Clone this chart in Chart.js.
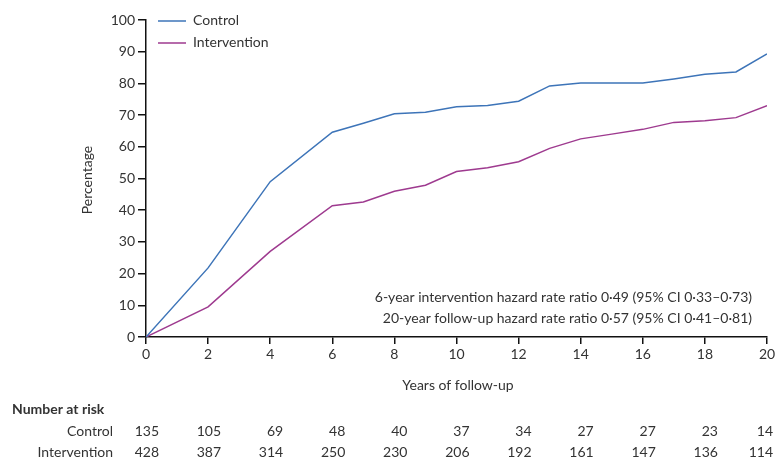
<!DOCTYPE html>
<html>
<head>
<meta charset="utf-8">
<script src="https://cdn.jsdelivr.net/npm/chart.js@4"></script>
<style>
  html, body { margin: 0; padding: 0; background: #fff; }
  #wrap { width: 778px; height: 459px; position: relative; }
</style>
</head>
<body>
<div id="wrap"><canvas id="chart" width="778" height="459"></canvas></div>
<script>
/* Cumulative percentage by years of follow-up */
const years = [0, 2, 4, 6, 7, 8, 9, 10, 11, 12, 13, 14, 15, 16, 17, 18, 19, 20];
const controlPct = [0, 21.8, 49, 64.6, 67.4, 70.4, 70.9, 72.6, 73.0, 74.4, 79.2, 80.1, 80.1, 80.1, 81.4, 82.9, 83.6, 89.3];
const interventionPct = [0, 9.5, 27, 41.4, 42.6, 46, 47.9, 52.2, 53.4, 55.3, 59.5, 62.5, 64, 65.5, 67.7, 68.2, 69.2, 73.0];

const riskYears = [0, 2, 4, 6, 8, 10, 12, 14, 16, 18, 20];
const riskControl = [135, 105, 69, 48, 40, 37, 34, 27, 27, 23, 14];
const riskIntervention = [428, 387, 314, 250, 230, 206, 192, 161, 147, 136, 114];

const notes = [
  '6-year intervention hazard rate ratio 0·49 (95% CI 0·33–0·73)',
  '20-year follow-up hazard rate ratio 0·57 (95% CI 0·41–0·81)'
];

const FONT = 'Lato, "Open Sans", sans-serif';
const TEXT = '#333';
const BLUE = '#3d74b8';
const PURPLE = '#9e3a8f';

function pts(xs, ys) { return xs.map((x, i) => ({ x, y: ys[i] })); }

const extras = {
  id: 'extras',
  afterDraw(chart) {
    const ctx = chart.ctx, xs = chart.scales.x, area = chart.chartArea;
    ctx.save();
    ctx.font = '14px ' + FONT;
    ctx.fillStyle = TEXT;

    // legend
    [['Control', BLUE, 20], ['Intervention', PURPLE, 42]].forEach(([t, c, y]) => {
      ctx.strokeStyle = c; ctx.lineWidth = 1.5;
      ctx.beginPath(); ctx.moveTo(158, y + 1); ctx.lineTo(186, y + 1); ctx.stroke();
      ctx.textAlign = 'left'; ctx.textBaseline = 'middle';
      ctx.fillText(t, 193, y);
    });

    // hazard notes
    ctx.textAlign = 'right';
    ctx.fillText(notes[0], 752, 297);
    ctx.fillText(notes[1], 752, 318);

    // axis titles
    ctx.textAlign = 'center';
    ctx.fillText('Years of follow-up', 458, 385);
    ctx.save();
    ctx.translate(87, 180); ctx.rotate(-Math.PI / 2);
    ctx.fillText('Percentage', 0, 0);
    ctx.restore();

    // number at risk table
    ctx.font = 'bold 14px ' + FONT;
    ctx.textAlign = 'left';
    ctx.fillText('Number at risk', 12, 409);
    ctx.font = '14px ' + FONT;
    ctx.textAlign = 'right';
    ctx.fillText('Control', 113, 431);
    ctx.fillText('Intervention', 113, 452);
    riskYears.forEach((yr, i) => {
      const px = Math.min(xs.getPixelForValue(yr) + 13, 773);
      ctx.fillText(String(riskControl[i]), px, 431);
      ctx.fillText(String(riskIntervention[i]), px, 452);
    });
    ctx.restore();
  }
};

new Chart(document.getElementById('chart'), {
  type: 'line',
  data: {
    datasets: [
      { label: 'Control', data: pts(years, controlPct), borderColor: BLUE, borderWidth: 1.5, pointRadius: 0, tension: 0 },
      { label: 'Intervention', data: pts(years, interventionPct), borderColor: PURPLE, borderWidth: 1.5, pointRadius: 0, tension: 0 }
    ]
  },
  options: {
    responsive: false,
    animation: false,
    layout: { padding: { top: 20, right: 11, left: 0, bottom: 0 } },
    plugins: { legend: { display: false }, tooltip: { enabled: false } },
    scales: {
      x: {
        type: 'linear', min: 0, max: 20,
        afterFit(s) { s.height = 122; },
        ticks: { stepSize: 2, color: TEXT, font: { family: FONT, size: 14 }, padding: 2, maxRotation: 0 },
        grid: { drawOnChartArea: false, drawTicks: true, tickLength: 7, color: '#111', lineWidth: 1.5 },
        border: { color: '#111', width: 1.5 }
      },
      y: {
        min: 0, max: 100,
        afterFit(s) { s.width = 146; },
        ticks: { stepSize: 10, color: TEXT, font: { family: FONT, size: 14 }, padding: 3 },
        grid: { drawOnChartArea: false, drawTicks: true, tickLength: 8, color: '#111', lineWidth: 1.5 },
        border: { color: '#111', width: 1.5 }
      }
    }
  },
  plugins: [extras]
});
</script>
</body>
</html>
